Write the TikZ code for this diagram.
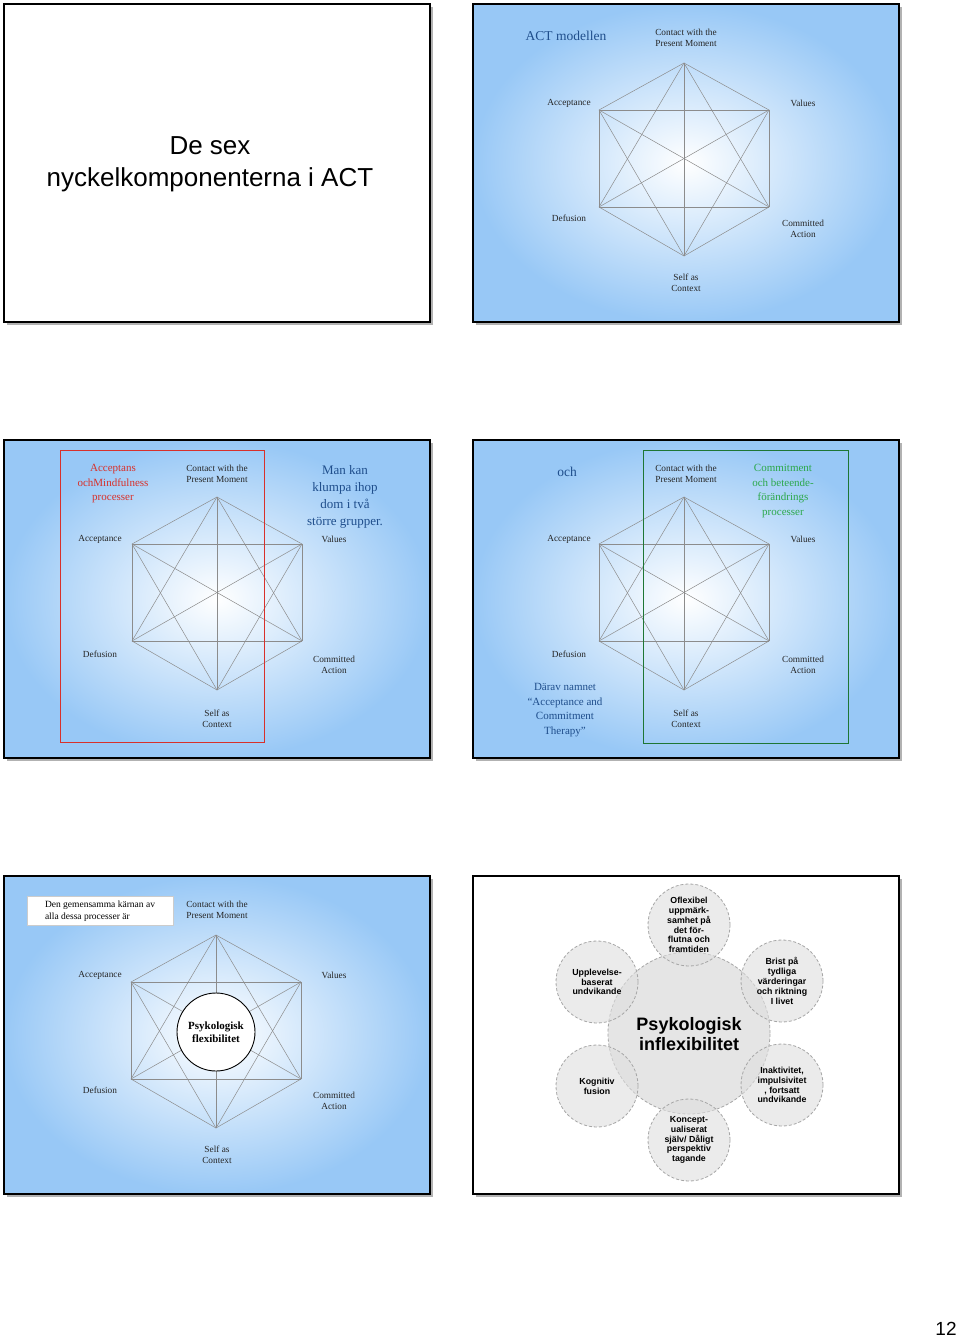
\documentclass[tikz,border=0pt]{standalone}
\usepackage{fontspec}
\setmainfont{Liberation Serif}
\setsansfont{Liberation Sans}
\definecolor{slideblue}{HTML}{98C8F6}
\definecolor{tblue}{HTML}{1F4E8C}
\definecolor{tgreen}{HTML}{2BA84A}
\definecolor{tred}{HTML}{D8302A}
\definecolor{hexline}{HTML}{8C8C8C}
\tikzset{
  frame/.style={draw=black,line width=1.6pt},
  lab/.style={align=center,font=\fontsize{9.3}{11}\selectfont,text=black!85,inner sep=0pt},
  blu/.style={align=center,font=\fontsize{12}{15}\selectfont,text=tblue,inner sep=0pt},
  bub/.style={circle,draw=gray!70,densely dashed,line width=0.8pt,fill=gray!25,fill opacity=0.6,text opacity=1,minimum size=82pt,inner sep=0pt,align=center,font=\sffamily\bfseries\fontsize{8.8}{9.8}\selectfont},
}
\newcommand\slidebg[1]{%
  \fill[gray!60] (3,3) rectangle (429,321);
  \shade[inner color=white,outer color=slideblue,#1] (0,0) rectangle (426,318);
  \draw[frame] (0,0) rectangle (426,318);}
\newcommand\myhex[3]{% prefix, x, y of top
  \begin{scope}[shift={(#2,#3)}]
  \coordinate (#1a) at (0,0);
  \coordinate (#1b) at (-85,47);
  \coordinate (#1c) at (85,47);
  \coordinate (#1d) at (-85,144);
  \coordinate (#1e) at (85,144);
  \coordinate (#1f) at (0,193);
  \end{scope}
  \foreach \p/\q in {a/b,a/c,a/d,a/e,a/f,b/c,b/d,b/e,b/f,c/d,c/e,c/f,d/e,d/f,e/f}
    \draw[hexline,line width=0.5pt] (#1\p) -- (#1\q);}
\newcommand\hexlabels[1]{%
  \node[lab] (#1l1) at (213,34) {Contact with the\\Present Moment};
  \node[lab] (#1l2) at (96,99) {Acceptance};
  \node[lab] (#1l3) at (330,99) {Values};
  \node[lab] (#1l4) at (96,214) {Defusion};
  \node[lab] (#1l5) at (330,225) {Committed\\Action};
  \node[lab] (#1l6) at (213,279) {Self as\\Context};}
\begin{document}
\begin{tikzpicture}[x=1pt,y=-1pt]
\useasboundingbox (0,0) rectangle (960,1340);
\fill[white] (0,0) rectangle (960,1340);
% slide 1
\begin{scope}[shift={(4,4)}]
  \fill[gray!60] (3,3) rectangle (429,321);
  \fill[white] (0,0) rectangle (426,318);
  \draw[frame] (0,0) rectangle (426,318);
  \node[align=center,font=\sffamily\fontsize{26}{32}\selectfont] (title) at (206,160) {De sex\\nyckelkomponenterna i ACT};
\end{scope}
% slide 2
\begin{scope}[shift={(473,4)}]
  \slidebg{}
  \myhex{s2}{211}{59}
  \hexlabels{s2}
  \node[blu,font=\fontsize{13.5}{15}\selectfont] (s2t) at (93,32) {ACT modellen};
\end{scope}
% slide 3
\begin{scope}[shift={(4,440)}]
  \slidebg{}
  \myhex{s3}{213}{57}
  \hexlabels{s3}
  \draw[tred,line width=0.8pt] (56,10) rectangle (260,302);
  \node[align=center,font=\fontsize{11}{14.5}\selectfont,text=tred] (s3r) at (109,44) {Acceptans\\ochMindfulness\\processer};
  \node[blu,font=\fontsize{13}{17}\selectfont] (s3b) at (341,57) {Man kan\\klumpa ihop\\dom i två\\större grupper.};
\end{scope}
% slide 4
\begin{scope}[shift={(473,440)}]
  \slidebg{}
  \myhex{s4}{211}{57}
  \hexlabels{s4}
  \node[blu,font=\fontsize{13.5}{15}\selectfont] (s4t) at (94,32) {och};
  \draw[tgreen!70!black,line width=0.8pt] (170,10) rectangle (375,303);
  \node[align=center,font=\fontsize{11}{14.5}\selectfont,text=tgreen] (s4g) at (310,51) {Commitment\\och beteende-\\förändrings\\processer};
  \node[blu,font=\fontsize{11}{14.5}\selectfont] (s4b) at (92,270) {Därav namnet\\“Acceptance and\\Commitment\\Therapy”};
\end{scope}
% slide 5
\begin{scope}[shift={(4,876)}]
  \slidebg{}
  \myhex{s5}{212}{59}
  \hexlabels{s5}
  \node[draw=gray!40,fill=white,align=left,font=\fontsize{9.5}{12}\selectfont,minimum width=146pt,minimum height=29pt,inner sep=3pt] (s5box) at (96,35) {Den gemensamma kärnan av\\alla dessa processer är};
  \node[circle,draw=black,line width=0.9pt,fill=white,minimum size=78pt,inner sep=0pt,align=center,font=\bfseries\fontsize{11}{13.5}\selectfont] (s5c) at (212,156) {Psykologisk\\flexibilitet};
\end{scope}
% slide 6
\begin{scope}[shift={(473,876)}]
  \fill[gray!60] (3,3) rectangle (429,321);
  \fill[white] (0,0) rectangle (426,318);
  \draw[frame] (0,0) rectangle (426,318);
  \node[circle,draw=gray!70,densely dashed,line width=0.8pt,fill=gray!20,minimum size=162pt] (big) at (216,157) {};
  \node[bub] (b1) at (216,49) {Oflexibel\\uppmärk-\\samhet på\\det för-\\flutna och\\framtiden};
  \node[bub] (b2) at (124,106) {Upplevelse-\\baserat\\undvikande};
  \node[bub] (b3) at (309,105) {Brist på\\tydliga\\värderingar\\och riktning\\I livet};
  \node[bub] (b4) at (124,210) {Kognitiv\\fusion};
  \node[bub] (b5) at (309,209) {Inaktivitet,\\impulsivitet\\, fortsatt\\undvikande};
  \node[bub] (b6) at (216,264) {Koncept-\\ualiserat\\själv/ Dåligt\\perspektiv\\tagande};
  \node[align=center,font=\sffamily\bfseries\fontsize{18}{20}\selectfont] (bigt) at (216,158) {Psykologisk\\inflexibilitet};
\end{scope}
\node[font=\sffamily\fontsize{19}{22}\selectfont] (pg) at (946,1329) {12};
\end{tikzpicture}
\end{document}
